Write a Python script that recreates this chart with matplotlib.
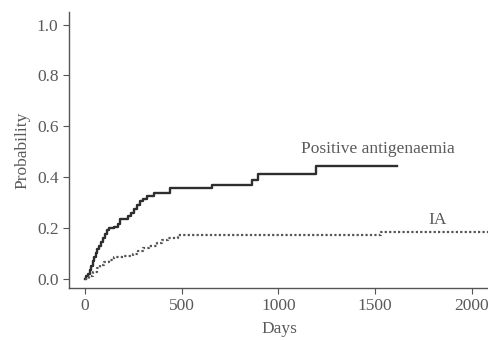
import matplotlib
matplotlib.use("Agg")
import matplotlib.pyplot as plt

# Positive antigenaemia (step times in days, cumulative probability after step)
pa_days = [0, 5, 15, 25, 32, 40, 48, 56, 64, 72, 82, 92, 104, 114, 124, 150, 170, 180,
           225, 240, 255, 270, 285, 300, 320, 355, 440, 655, 865, 895, 1195, 1612]
pa_prob = [0, 0.01, 0.02, 0.035, 0.05, 0.07, 0.085, 0.10, 0.115, 0.13, 0.145, 0.16, 0.175,
           0.19, 0.20, 0.205, 0.215, 0.235, 0.245, 0.26, 0.275, 0.29, 0.305, 0.315, 0.325,
           0.335, 0.355, 0.37, 0.39, 0.41, 0.445, 0.445]

# IA
ia_days = [0, 20, 40, 60, 80, 100, 125, 150, 200, 250, 275, 300, 330, 370, 400, 430, 480, 1530, 2090]
ia_prob = [0, 0.01, 0.025, 0.04, 0.055, 0.065, 0.075, 0.085, 0.09, 0.095, 0.11, 0.12, 0.13,
           0.14, 0.15, 0.16, 0.17, 0.185, 0.185]

x_ticks = [0, 500, 1000, 1500, 2000]
y_ticks = [0.0, 0.2, 0.4, 0.6, 0.8, 1.0]

plt.rcParams['font.family'] = ['Liberation Serif', 'DejaVu Serif']
txt = '#5a5a5a'
fs = 12.5

fig = plt.figure(figsize=(4.89, 3.40), dpi=100)
ax = fig.add_axes([0.141, 0.153, 0.859, 0.812])

ax.step(pa_days, pa_prob, where='post', color='#2e2e2e', lw=1.7)
ax.step(ia_days, ia_prob, where='post', color='#555555', lw=1.6, linestyle=(0, (1, 1)))

ax.set_xlim(-83, 2090)
ax.set_ylim(-0.037, 1.05)
ax.set_xticks(x_ticks)
ax.set_xticklabels([str(v) for v in x_ticks])
ax.set_yticks(y_ticks)
ax.set_yticklabels([f"{v:.1f}" for v in y_ticks])

for s in ['top', 'right']:
    ax.spines[s].set_visible(False)
for s in ['left', 'bottom']:
    ax.spines[s].set_color('#555555')
    ax.spines[s].set_linewidth(1.0)
ax.tick_params(axis='both', direction='out', length=4, width=0.8, color='#555555',
               labelcolor=txt, labelsize=fs)

ax.set_xlabel('Days', color=txt, fontsize=fs, labelpad=5)
ax.set_ylabel('Probability', color=txt, fontsize=fs, labelpad=5)

ax.text(1514, 0.51, 'Positive antigenaemia', color=txt, fontsize=fs, ha='center', va='center')
ax.text(1824, 0.23, 'IA', color=txt, fontsize=fs, ha='center', va='center')

fig.savefig('out.png', dpi=100)
